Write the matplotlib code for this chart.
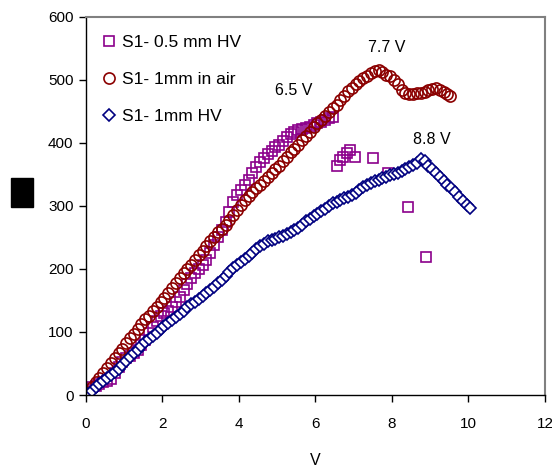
import matplotlib.pyplot as plt
from matplotlib.patches import Rectangle

plt.rcParams['font.family'] = ['Liberation Sans', 'DejaVu Sans']

# S1- 0.5 mm HV (squares)
v_05hv = [0.05, 0.15, 0.25, 0.35, 0.45, 0.55, 0.65, 0.75, 0.85, 0.95,
          1.05, 1.15, 1.25, 1.35, 1.45, 1.55, 1.65, 1.75, 1.85, 1.95,
          2.05, 2.15, 2.25, 2.35, 2.45, 2.55, 2.65, 2.75, 2.85, 2.95,
          3.05, 3.15, 3.25, 3.35, 3.45, 3.55, 3.65, 3.75, 3.85, 3.95,
          4.05, 4.15, 4.25, 4.35, 4.45, 4.55, 4.65, 4.75, 4.85, 4.95,
          5.05, 5.15, 5.25, 5.35, 5.45, 5.55, 5.65, 5.75, 5.85, 5.95,
          6.05, 6.15, 6.25, 6.35, 6.45, 6.56, 6.64, 6.73, 6.83, 6.9,
          7.03, 7.5, 7.9, 8.42, 8.9]
i_05hv = [8, 12, 15, 18, 20, 22, 25, 35, 45, 52,
          58, 62, 66, 72, 80, 88, 98, 108, 118, 126,
          130, 134, 140, 148, 156, 166, 176, 186, 194, 200,
          206, 214, 226, 238, 250, 262, 274, 290, 306, 318,
          326, 334, 342, 352, 362, 370, 376, 382, 388, 393,
          397, 403, 410, 415, 418, 420, 422, 424, 426, 428,
          431, 434, 437, 440, 442, 363, 373, 378, 384, 389,
          378, 376, 352, 298, 219]

# S1- 1mm in air (circles)
v_air = [0.05, 0.15, 0.25, 0.35, 0.45, 0.55, 0.65, 0.75, 0.85, 0.95,
         1.05, 1.15, 1.25, 1.35, 1.45, 1.55, 1.65, 1.75, 1.85, 1.95,
         2.05, 2.15, 2.25, 2.35, 2.45, 2.55, 2.65, 2.75, 2.85, 2.95,
         3.05, 3.15, 3.25, 3.35, 3.45, 3.55, 3.65, 3.75, 3.85, 3.95,
         4.05, 4.15, 4.25, 4.35, 4.45, 4.55, 4.65, 4.75, 4.85, 4.95,
         5.05, 5.15, 5.25, 5.35, 5.45, 5.55, 5.65, 5.75, 5.85, 5.95,
         6.05, 6.15, 6.25, 6.35, 6.45, 6.55, 6.65, 6.75, 6.85, 6.95,
         7.05, 7.15, 7.25, 7.35, 7.45, 7.55, 7.65, 7.75, 7.85, 7.95,
         8.05, 8.15, 8.25, 8.35, 8.45, 8.55, 8.65, 8.75, 8.85, 8.95,
         9.05, 9.15, 9.25, 9.35, 9.45, 9.52]
i_air = [5, 12, 20, 27, 35, 43, 51, 58, 66, 73,
         82, 90, 97, 104, 112, 120, 126, 133, 140, 147,
         154, 162, 170, 178, 186, 193, 200, 207, 214, 222,
         229, 236, 244, 251, 258, 264, 270, 277, 286, 294,
         302, 309, 316, 322, 328, 334, 340, 346, 352, 358,
         364, 371, 378, 385, 391, 397, 404, 411, 418, 425,
         431, 437, 443, 449, 455, 461, 468, 475, 482, 488,
         493, 498, 503, 507, 511, 514, 516, 512, 508, 506,
         500, 494, 484, 479, 477, 478, 480, 479, 481, 484,
         486, 487, 484, 481, 478, 474]

# S1- 1mm HV (diamonds)
v_1hv = [0.05, 0.15, 0.25, 0.35, 0.45, 0.55, 0.65, 0.75, 0.85, 0.95,
         1.05, 1.15, 1.25, 1.35, 1.45, 1.55, 1.65, 1.75, 1.85, 1.95,
         2.05, 2.15, 2.25, 2.35, 2.45, 2.55, 2.65, 2.75, 2.85, 2.95,
         3.05, 3.15, 3.25, 3.35, 3.45, 3.55, 3.65, 3.75, 3.85, 3.95,
         4.05, 4.15, 4.25, 4.35, 4.45, 4.55, 4.65, 4.75, 4.85, 4.95,
         5.05, 5.15, 5.25, 5.35, 5.45, 5.55, 5.65, 5.75, 5.85, 5.95,
         6.05, 6.15, 6.25, 6.35, 6.45, 6.55, 6.65, 6.75, 6.85, 6.95,
         7.05, 7.15, 7.25, 7.35, 7.45, 7.55, 7.65, 7.75, 7.85, 7.95,
         8.05, 8.15, 8.25, 8.35, 8.45, 8.55, 8.65, 8.75, 8.85, 8.95,
         9.05, 9.15, 9.25, 9.35, 9.45, 9.55, 9.65, 9.75, 9.85, 9.95,
         10.05]
i_1hv = [2, 6, 12, 17, 22, 27, 32, 37, 42, 48,
         54, 60, 66, 72, 78, 84, 89, 94, 99, 104,
         109, 114, 119, 124, 129, 134, 139, 144, 148, 152,
         157, 162, 167, 172, 177, 183, 189, 195, 201, 206,
         211, 216, 221, 226, 231, 236, 240, 244, 246, 248,
         250, 253, 256, 259, 262, 265, 270, 276, 280, 284,
         288, 292, 296, 300, 304, 307, 309, 312, 314, 317,
         320, 325, 330, 334, 337, 339, 341, 344, 346, 349,
         351, 353, 355, 358, 362, 365, 369, 374, 372, 364,
         358, 352, 346, 340, 334, 328, 322, 315, 308, 302,
         297]

labels = ['S1- 0.5 mm HV', 'S1- 1mm in air', 'S1- 1mm HV']
notes = ['6.5 V', '7.7 V', '8.8 V']
note_x = [5.44, 7.87, 9.05]
note_y = [483, 552, 405]

fig = plt.figure(figsize=(5.52, 4.73), dpi=100)
ax = fig.add_axes([0.1558, 0.1649, 0.8315, 0.7992])

ax.plot(v_05hv, i_05hv, linestyle='none', marker='s', ms=7, mfc='none',
        mec='#8b008b', mew=1.2, label=labels[0])
ax.plot(v_air, i_air, linestyle='none', marker='o', ms=8, mfc='none',
        mec='#8b0000', mew=1.2, label=labels[1])
ax.plot(v_1hv, i_1hv, linestyle='none', marker='D', ms=6.5, mfc='white',
        mec='#000080', mew=1.2, label=labels[2])

for t, x, y in zip(notes, note_x, note_y):
    ax.text(x, y, t, ha='center', va='center', fontsize=11.5)

ax.set_xlim(0, 12)
ax.set_ylim(0, 600)
ax.set_xticks(range(0, 13, 2))
ax.set_yticks(range(0, 601, 100))
ax.tick_params(direction='out', length=5, width=1, labelsize=11)
ax.tick_params(axis='x', pad=11)
ax.tick_params(axis='y', pad=4)
for s in ['left', 'bottom']:
    ax.spines[s].set_color('black')
    ax.spines[s].set_linewidth(1)
for s in ['top', 'right']:
    ax.spines[s].set_color('#808080')
    ax.spines[s].set_linewidth(1.5)

ax.set_xlabel('V', fontsize=11.5, labelpad=16)

ax.legend(loc='upper left', bbox_to_anchor=(0.015, 0.97), frameon=False,
          fontsize=12.5, labelspacing=1.25, handletextpad=0.3,
          handlelength=1.0, borderaxespad=0.0)

# blacked-out y label
fig.patches.append(Rectangle((0.0199, 0.5624), 0.0399, 0.0613,
                             transform=fig.transFigure, color='black'))

fig.savefig('out.png', dpi=100)
